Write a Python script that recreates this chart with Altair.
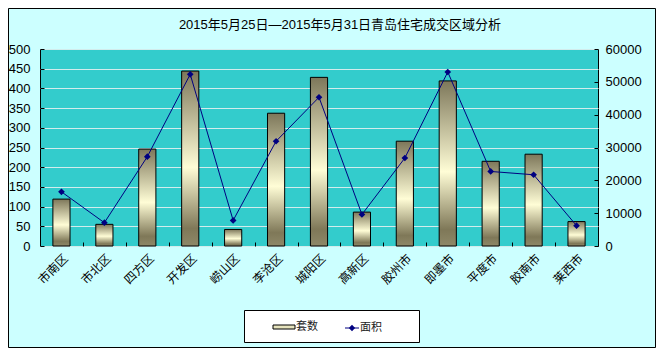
import altair as alt
import pandas as pd

districts = ["市南区", "市北区", "四方区", "开发区", "崂山区", "李沧区", "城阳区",
             "高新区", "胶州市", "即墨市", "平度市", "胶南市", "莱西市"]
units = [119, 55, 246, 444, 42, 337, 428, 86, 266, 419, 215, 233, 62]
area = [16500, 7100, 27200, 52300, 7800, 31900, 45300, 9600, 26800, 53000, 22700, 21700, 6200]
title_text = "2015年5月25日—2015年5月31日青岛住宅成交区域分析"
legend_labels = ["套数", "面积"]
left_ticks = list(range(0, 501, 50))
right_ticks = list(range(0, 60001, 10000))

df = pd.DataFrame({"district": districts, "units": units, "area": area})

W, H = 558, 197
FONT = "Liberation Sans, Noto Sans CJK SC, sans-serif"
STEP = W / len(districts)

x_enc = alt.X(
    "district:N", sort=districts,
    scale=alt.Scale(paddingInner=0.6, paddingOuter=0.3),
    axis=alt.Axis(title=None, labelAngle=-45, labelAlign="right", labelBaseline="middle",
                  labelFontSize=12, labelFont=FONT, labelColor="black", labelPadding=10,
                  labelOffset=4 - STEP / 2, tickOffset=STEP / 2, tickSize=4, offset=-4,
                  domain=False, tickColor="black", grid=False),
)

grad = alt.Gradient(
    gradient="linear",
    stops=[
        alt.GradientStop(color="#7d775a", offset=0),
        alt.GradientStop(color="#fffdd6", offset=0.55),
        alt.GradientStop(color="#7f7858", offset=0.9),
        alt.GradientStop(color="#8e8868", offset=1),
    ],
    x1=0, x2=0, y1=0, y2=1,
)

bars = alt.Chart(df).mark_bar(color=grad, stroke="black", strokeWidth=1).encode(
    x=x_enc,
    y=alt.Y("units:Q", scale=alt.Scale(domain=[0, 500], nice=False),
            axis=alt.Axis(title=None, orient="left", values=left_ticks, labelFontSize=13,
                          labelFont=FONT, labelColor="black", labelPadding=10, tickSize=4,
                          offset=-4, domain=False, tickColor="black", grid=True,
                          gridColor="#D2ECEC", gridWidth=1)),
)

line = alt.Chart(df).mark_line(
    color="#000080", strokeWidth=1,
    point=alt.OverlayMarkDef(shape="diamond", size=45, filled=True, color="#000080"),
).encode(
    x=x_enc,
    y=alt.Y("area:Q", scale=alt.Scale(domain=[0, 60000], nice=False),
            axis=alt.Axis(title=None, orient="right", values=right_ticks, format="d",
                          labelFontSize=13, labelFont=FONT, labelColor="black",
                          labelPadding=7, tickSize=4, offset=-4, domain=False,
                          tickColor="black", grid=False)),
)

one = alt.Data(values=[{"k": 1}])

title_mark = alt.Chart(one).mark_text(
    text=title_text, font=FONT, fontSize=13, color="black", align="center", baseline="middle"
).encode(x=alt.value(300), y=alt.value(-24))

border = alt.Chart(one).mark_rect(fillOpacity=0, stroke="black", strokeWidth=1).encode(
    x=alt.value(-31.5), x2=alt.value(615.5), y=alt.value(-40.5), y2=alt.value(298.5)
)

legend_box = alt.Chart(one).mark_rect(fill="white", stroke="black", strokeWidth=1).encode(
    x=alt.value(204.5), x2=alt.value(379.5), y=alt.value(261.5), y2=alt.value(293.5)
)
legend_swatch = alt.Chart(one).mark_rect(fill="#e6e3bd", stroke="black", strokeWidth=1).encode(
    x=alt.value(233), x2=alt.value(255), y=alt.value(276), y2=alt.value(280)
)
legend_t1 = alt.Chart(one).mark_text(
    text=legend_labels[0], font=FONT, fontSize=11, color="#222", align="left", baseline="middle"
).encode(x=alt.value(256), y=alt.value(278))
legend_line = alt.Chart(one).mark_rule(color="#000080", strokeWidth=1).encode(
    x=alt.value(305), x2=alt.value(319), y=alt.value(279)
)
legend_pt = alt.Chart(one).mark_point(shape="diamond", size=40, filled=True, color="#000080",
                                      opacity=1).encode(x=alt.value(312), y=alt.value(279))
legend_t2 = alt.Chart(one).mark_text(
    text=legend_labels[1], font=FONT, fontSize=11, color="#222", align="left", baseline="middle"
).encode(x=alt.value(320), y=alt.value(279))

chart = alt.layer(
    bars, line, title_mark, border, legend_box, legend_swatch, legend_t1,
    legend_line, legend_pt, legend_t2
).resolve_scale(y="independent").properties(
    width=W, height=H, background="#CCFFFF",
    padding={"left": 32, "top": 41, "right": 58, "bottom": 102},
    autosize=alt.AutoSizeParams(type="none"),
).configure_view(fill="#33CCCC", stroke="black", strokeWidth=1)

chart.save("out.html", embed_options={"renderer": "svg", "actions": False})
